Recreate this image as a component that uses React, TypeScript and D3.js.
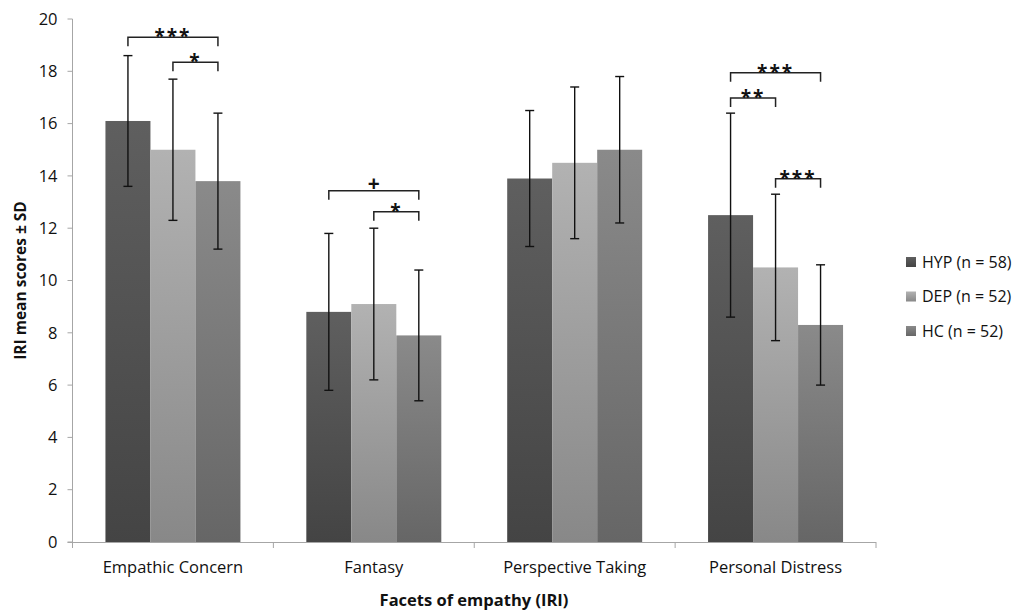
import React from "react";
import * as d3 from "d3";

const categories = ["Empathic Concern", "Fantasy", "Perspective Taking", "Personal Distress"];
const groups = ["HYP", "DEP", "HC"];
const legendLabels = ["HYP (n = 58)", "DEP (n = 52)", "HC (n = 52)"];
const hypMean = [16.1, 8.8, 13.9, 12.5];
const hypSD = [2.5, 3.0, 2.6, 3.9];
const depMean = [15.0, 9.1, 14.5, 10.5];
const depSD = [2.7, 2.9, 2.9, 2.8];
const hcMean = [13.8, 7.9, 15.0, 8.3];
const hcSD = [2.6, 2.5, 2.8, 2.3];
const yTicks = [0, 2, 4, 6, 8, 10, 12, 14, 16, 18, 20];
// significance brackets: category index, from group, to group, level (data units), label
const brackets = [
  { cat: 0, from: 0, to: 2, level: 19.3, label: "***" },
  { cat: 0, from: 1, to: 2, level: 18.35, label: "*" },
  { cat: 1, from: 0, to: 2, level: 13.43, label: "+" },
  { cat: 1, from: 1, to: 2, level: 12.63, label: "*" },
  { cat: 3, from: 0, to: 2, level: 17.94, label: "***" },
  { cat: 3, from: 0, to: 1, level: 16.98, label: "**" },
  { cat: 3, from: 1, to: 2, level: 13.89, label: "***" },
];

const means = [hypMean, depMean, hcMean];
const sds = [hypSD, depSD, hcSD];
const topColors = ["#5f5f5f", "#b2b2b2", "#8a8a8a"];
const botColors = ["#444444", "#888888", "#666666"];

export default function App() {
  const W = 1016, H = 612;
  const left = 72.5, right = 876, top = 19, bottom = 542;
  const font = "'Open Sans', sans-serif";
  const x = d3.scaleBand().domain(categories).range([left, right]).paddingInner(0.328).paddingOuter(0.164);
  const xg = d3.scaleBand().domain(groups).range([0, x.bandwidth()]);
  const y = d3.scaleLinear().domain([0, 20]).range([bottom, top]);
  const step = x.step();
  const catEdges = d3.range(categories.length + 1).map((i) => left + i * step);
  const gx = (c: number, g: number) => (x(categories[c]) as number) + (xg(groups[g]) as number) + xg.bandwidth() / 2;

  return (
    <svg width={W} height={H} style={{ display: "block", position: "absolute", left: 0, top: 0 }}>
      <defs>
        {groups.map((g, i) => (
          <linearGradient key={g} id={`grad${i}`} x1="0" y1="0" x2="0" y2="1">
            <stop offset="0%" stopColor={topColors[i]} />
            <stop offset="100%" stopColor={botColors[i]} />
          </linearGradient>
        ))}
      </defs>
      <rect width={W} height={H} fill="#fff" />
      {/* y axis */}
      <line x1={left} x2={left} y1={top} y2={bottom} stroke="#a6a6a6" strokeWidth={1} />
      {yTicks.map((t) => (
        <g key={t}>
          <line x1={left - 5} x2={left} y1={y(t)} y2={y(t)} stroke="#a6a6a6" />
          <text x={left - 15} y={y(t)} dy="0.35em" textAnchor="end" fontFamily={font} fontSize={16.5} fill="#111">{t}</text>
        </g>
      ))}
      {/* bars */}
      {categories.map((c, ci) =>
        groups.map((g, gi) => (
          <rect key={c + g} x={(x(c) as number) + (xg(g) as number)} y={y(means[gi][ci])}
            width={xg.bandwidth()} height={bottom - y(means[gi][ci])} fill={`url(#grad${gi})`} />
        ))
      )}
      {/* x axis */}
      <line x1={left - 5} x2={right} y1={bottom + 0.5} y2={bottom + 0.5} stroke="#a6a6a6" />
      {catEdges.map((e, i) => (
        <line key={i} x1={e} x2={e} y1={bottom} y2={bottom + 6} stroke="#a6a6a6" />
      ))}
      {categories.map((c) => (
        <text key={c} x={(x(c) as number) + x.bandwidth() / 2} y={573} textAnchor="middle" fontFamily={font} fontSize={16.5} fill="#111">{c}</text>
      ))}
      {/* error bars */}
      {categories.map((c, ci) =>
        groups.map((g, gi) => {
          const cx = gx(ci, gi);
          const m = means[gi][ci], s = sds[gi][ci];
          return (
            <g key={c + g + "e"} stroke="#111" strokeWidth={1.4}>
              <line x1={cx} x2={cx} y1={y(m - s)} y2={y(m + s)} />
              <line x1={cx - 4.5} x2={cx + 4.5} y1={y(m - s)} y2={y(m - s)} />
              <line x1={cx - 4.5} x2={cx + 4.5} y1={y(m + s)} y2={y(m + s)} />
            </g>
          );
        })
      )}
      {/* brackets */}
      {brackets.map((b, i) => {
        const x1 = gx(b.cat, b.from), x2 = gx(b.cat, b.to);
        const yy = y(b.level);
        const plus = b.label === "+";
        return (
          <g key={i}>
            <path d={`M${x1},${yy + 9}V${yy}H${x2}V${yy + 9}`} fill="none" stroke="#222" strokeWidth={1.5} />
            <text x={(x1 + x2) / 2} y={yy + (plus ? 0 : 6)} textAnchor="middle" fontFamily={font}
              fontSize={plus ? 21 : 19} letterSpacing={plus ? 0 : 2} fontWeight="bold" fill="#111">{b.label}</text>
          </g>
        );
      })}
      {/* axis titles */}
      <text transform={`translate(26,${(top + bottom) / 2}) rotate(-90)`} textAnchor="middle" fontFamily={font}
        fontSize={15.5} fontWeight="bold" fill="#111">IRI mean scores ± SD</text>
      <text x={474} y={606} textAnchor="middle" fontFamily={font} fontSize={16.5} fontWeight="bold" fill="#111">Facets of empathy (IRI)</text>
      {/* legend */}
      {legendLabels.map((l, i) => (
        <g key={l} transform={`translate(906,${257 + i * 34.5})`}>
          <rect x={0} y={0} width={10} height={10} fill={`url(#grad${i})`} />
          <text x={16} y={5} dy="0.35em" fontFamily={font} fontSize={16} fill="#111">{l}</text>
        </g>
      ))}
    </svg>
  );
}
